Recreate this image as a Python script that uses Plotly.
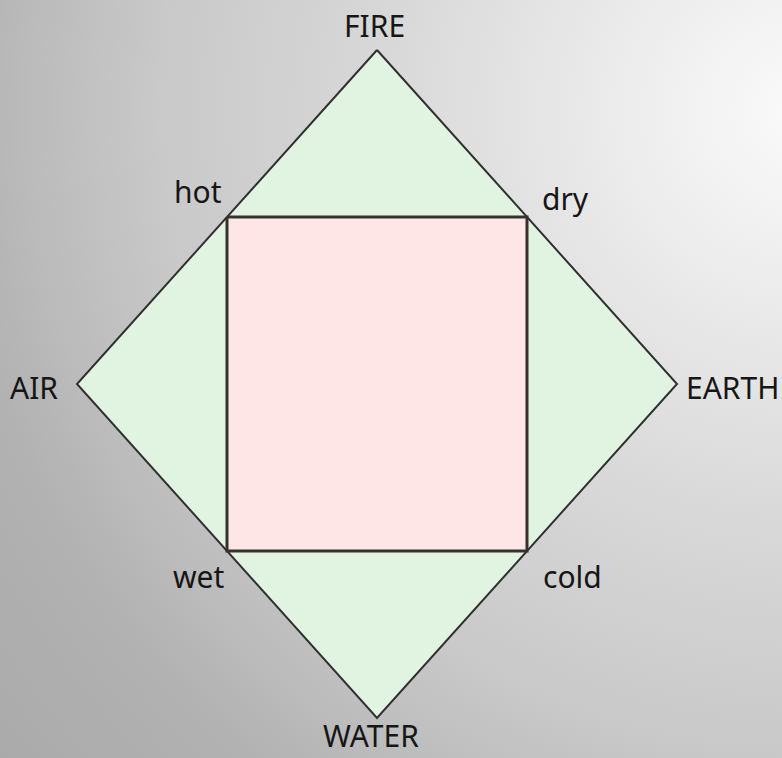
import base64
import plotly.graph_objects as go

# ---- data ----
element_names = ["FIRE", "EARTH", "WATER", "AIR"]
element_x = [0, 1, 0, -1]
element_y = [1, 0, -1, 0]

quality_names = ["hot", "dry", "cold", "wet"]
quality_x = [-0.5, 0.5, 0.5, -0.5]
quality_y = [0.5, 0.5, -0.5, -0.5]

# ---- styles (label offsets in pixels) ----
element_shift = {"FIRE": (-3, 25), "EARTH": (55, -3), "WATER": (-6, -17), "AIR": (-43, -3)}
quality_shift = {"hot": (-29, 26), "dry": (38, 19), "cold": (45, -25), "wet": (-28, -25)}

W, H = 782, 758
font = dict(family="Noto Sans, DejaVu Sans, sans-serif", size=30, color="#161616")

fig = go.Figure()

fig.add_trace(go.Scatter(
    x=element_x + element_x[:1], y=element_y + element_y[:1],
    mode="lines", fill="toself", fillcolor="#e1f4e1",
    line=dict(color="#303030", width=2.0), hoverinfo="skip", showlegend=False))

fig.add_trace(go.Scatter(
    x=quality_x + quality_x[:1], y=quality_y + quality_y[:1],
    mode="lines", fill="toself", fillcolor="#ffe6e6",
    line=dict(color="#363131", width=3.0), hoverinfo="skip", showlegend=False))

for n, x, y in zip(element_names, element_x, element_y):
    dx, dy = element_shift[n]
    fig.add_annotation(x=x, y=y, text=n, showarrow=False, xshift=dx, yshift=dy,
                       xanchor="center", yanchor="middle", font=font)
for n, x, y in zip(quality_names, quality_x, quality_y):
    dx, dy = quality_shift[n]
    fig.add_annotation(x=x, y=y, text=n, showarrow=False, xshift=dx, yshift=dy,
                       xanchor="center", yanchor="middle", font=font)

svg = f"""<svg xmlns='http://www.w3.org/2000/svg' width='{W}' height='{H}'>
<defs><radialGradient id='g' gradientUnits='userSpaceOnUse' cx='800' cy='110' r='1100'>
<stop offset='0' stop-color='#fafafa'/>
<stop offset='0.12' stop-color='#f0f0f0'/>
<stop offset='0.38' stop-color='#d8d8d8'/>
<stop offset='0.58' stop-color='#c9c9c9'/>
<stop offset='0.70' stop-color='#bbbbbb'/>
<stop offset='0.77' stop-color='#b2b2b2'/>
<stop offset='1' stop-color='#a7a7a7'/>
</radialGradient></defs>
<rect width='{W}' height='{H}' fill='url(#g)'/></svg>"""
src = "data:image/svg+xml;base64," + base64.b64encode(svg.encode()).decode()

# pixel geometry: centre (377,384), 300 px per x unit, 334 px per y unit
cx, cy, sx, sy = 377, 384, 300, 334
fig.update_layout(
    width=W, height=H, margin=dict(l=0, r=0, t=0, b=0),
    paper_bgcolor="#c0c0c0", plot_bgcolor="rgba(0,0,0,0)",
    xaxis=dict(range=[-cx / sx, (W - cx) / sx], visible=False, fixedrange=True),
    yaxis=dict(range=[-(H - cy) / sy, cy / sy], visible=False, fixedrange=True),
    images=[dict(source=src, xref="paper", yref="paper", x=0, y=1, sizex=1, sizey=1,
                 xanchor="left", yanchor="top", sizing="stretch", layer="below")],
)

fig.write_html("out.html", config={"displayModeBar": False},
               post_script="document.body.style.margin='0';document.body.style.overflow='hidden';")
